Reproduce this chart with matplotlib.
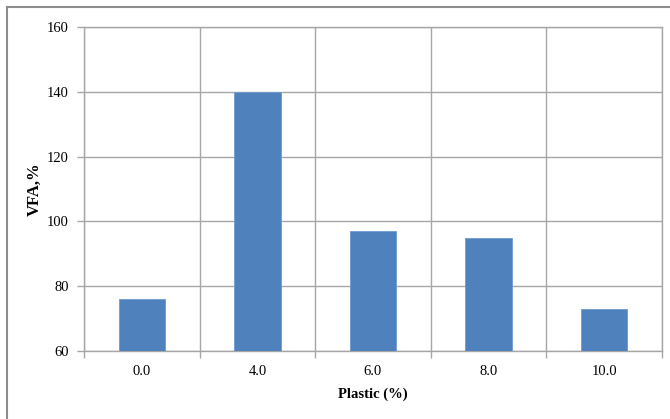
import matplotlib.pyplot as plt
from matplotlib.lines import Line2D
import numpy as np

plastic = ["0.0", "4.0", "6.0", "8.0", "10.0"]
vfa = [76, 140, 97, 95, 73]

plt.rcParams['font.family'] = ['Liberation Serif', 'DejaVu Serif']

fig = plt.figure(figsize=(6.7, 4.19), dpi=100)
ax = fig.add_axes([84/670, 68/419, 578/670, 324/419])

grid = "#a6a6a6"
x = np.arange(len(plastic))
ax.bar(x, vfa, width=0.4, color="#4f81bd", edgecolor="#6f9bd1", linewidth=0.6, zorder=3)

ax.set_xlim(-0.5, len(plastic) - 0.5)
ax.set_ylim(60, 160)
ax.set_yticks(np.arange(60, 161, 20))
ax.set_xticks(x)
ax.set_xticklabels(plastic)
ax.set_xticks(np.arange(-0.5, len(plastic), 1), minor=True)

ax.grid(True, axis="y", which="major", color=grid, linewidth=1.0, zorder=0)
ax.grid(True, axis="x", which="minor", color=grid, linewidth=1.0, zorder=0)
ax.tick_params(axis="x", which="major", length=0, pad=10, labelsize=10.5)
ax.tick_params(axis="x", which="minor", length=5, color=grid, width=1.0)
ax.tick_params(axis="y", length=5, color=grid, width=1.0, pad=6, labelsize=10.5)
for s in ax.spines.values():
    s.set_color(grid)
    s.set_linewidth(1.0)

ax.set_xlabel("Plastic (%)", fontweight="bold", fontsize=10.5, labelpad=7)
ax.set_ylabel("VFA,%", fontweight="bold", fontsize=12, labelpad=3)

# chart-area border (top and left edges)
fig.add_artist(Line2D([7/670, 1], [1 - 7/419, 1 - 7/419], color="#8c8c8c", linewidth=1.5))
fig.add_artist(Line2D([7/670, 7/670], [0, 1 - 7/419], color="#8c8c8c", linewidth=1.5))

fig.savefig("out.png", dpi=100)
